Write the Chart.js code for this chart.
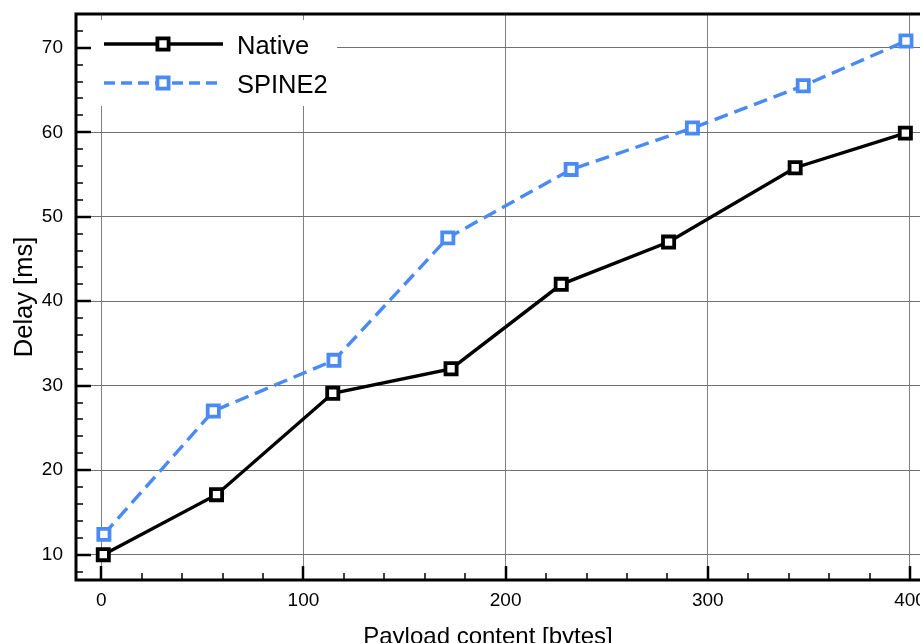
<!DOCTYPE html>
<html>
<head>
<meta charset="utf-8">
<script src="https://cdn.jsdelivr.net/npm/chart.js@4/dist/chart.umd.min.js"></script>
<style>
  html, body { margin: 0; padding: 0; background: #fff; width: 920px; height: 643px; overflow: hidden; }
  #wrap { position: relative; width: 950px; height: 643px; }
</style>
</head>
<body>
<div id="wrap"><canvas id="chart" width="950" height="643"></canvas></div>
<script>
// Payload size (bytes) and measured delay (ms) for each stack
const payloadNative = [1, 57, 114.5, 173, 227.5, 280.6, 343.2, 397.7];
const delayNative   = [10.0, 17.1, 29.1, 32.0, 42.0, 47.0, 55.8, 59.9];
const payloadSpine  = [1.3, 55.4, 115.1, 171.4, 232.4, 292.4, 347.2, 398.0];
const delaySpine    = [12.4, 27.0, 33.0, 47.5, 55.6, 60.5, 65.5, 70.8];

const seriesNames = ['Native', 'SPINE2'];
const xTickValues = [0, 100, 200, 300, 400];
const yTickValues = [10, 20, 30, 40, 50, 60, 70];

const xTitle = 'Payload content [bytes]';
const yTitle = 'Delay [ms]';

const FONT = '"Liberation Sans", Arial, Helvetica, sans-serif';
const BLUE = '#4a8af5';

const toPoints = (xs, ys) => xs.map((x, i) => ({ x, y: ys[i] }));

// Inside tick marks, plot frame, legend panel and axis titles
const framePlugin = {
  id: 'frame',
  afterDatasetsDraw(chart) {
    const { ctx, chartArea: a, scales: { x, y } } = chart;
    ctx.save();

    // legend panel (white, covers grid lines)
    ctx.fillStyle = '#fff';
    ctx.fillRect(a.left, a.top + 6, 261, 86);

    chart.data.datasets.forEach((ds, i) => {
      const ly = a.top + 30 + i * 39;
      const x0 = a.left + 28, x1 = a.left + 147, xm = a.left + 87;
      const half = 5.6;
      ctx.save();
      ctx.strokeStyle = ds.borderColor;
      ctx.lineWidth = ds.borderWidth;
      ctx.setLineDash(ds.borderDash.length ? [11, 6] : []);
      ctx.beginPath();
      ctx.moveTo(x0, ly);
      ctx.lineTo(x1, ly);
      ctx.stroke();
      ctx.setLineDash([]);
      ctx.fillStyle = '#fff';
      ctx.lineWidth = ds.pointBorderWidth;
      ctx.strokeStyle = ds.pointBorderColor;
      ctx.fillRect(xm - half, ly - half, 2 * half, 2 * half);
      ctx.strokeRect(xm - half, ly - half, 2 * half, 2 * half);
      ctx.restore();

      ctx.fillStyle = '#000';
      ctx.font = '25.5px ' + FONT;
      ctx.textAlign = 'left';
      ctx.textBaseline = 'alphabetic';
      ctx.fillText(ds.label, a.left + 161, ly + 9.5);
    });

    // inward tick marks on the left axis
    ctx.strokeStyle = '#000';
    for (let v = Math.ceil(y.min / 2) * 2; v <= y.max; v += 2) {
      const p = Math.round(y.getPixelForValue(v));
      const major = v % 10 === 0;
      ctx.lineWidth = major ? 2.5 : 1.5;
      ctx.beginPath();
      ctx.moveTo(a.left, p);
      ctx.lineTo(a.left + (major ? 15 : 7), p);
      ctx.stroke();
    }
    // inward tick marks on the bottom axis
    for (let v = Math.ceil(x.min / 20) * 20; v <= x.max; v += 20) {
      const p = Math.round(x.getPixelForValue(v));
      const major = v % 100 === 0;
      ctx.lineWidth = major ? 2.5 : 1.5;
      ctx.beginPath();
      ctx.moveTo(p, a.bottom);
      ctx.lineTo(p, a.bottom - (major ? 14 : 7));
      ctx.stroke();
    }

    // plot frame
    ctx.lineWidth = 3;
    ctx.strokeRect(a.left, a.top, a.right - a.left, a.bottom - a.top);
    ctx.restore();
  },
  afterDraw(chart) {
    const { ctx } = chart;
    ctx.save();
    ctx.fillStyle = '#000';
    ctx.font = '24px ' + FONT;
    ctx.textAlign = 'center';
    ctx.textBaseline = 'alphabetic';
    ctx.fillText(xTitle, 488, 644);

    ctx.translate(32, 297);
    ctx.rotate(-Math.PI / 2);
    ctx.font = '25.5px ' + FONT;
    ctx.fillText(yTitle, 0, 0);
    ctx.restore();
  }
};

const lineStyle = (color, dash) => ({
  borderColor: color,
  borderWidth: 3.4,
  borderDash: dash,
  pointStyle: 'rect',
  pointRadius: 7.9,
  pointBorderWidth: 3.8,
  pointBorderColor: color,
  pointBackgroundColor: '#fff',
  tension: 0,
  fill: false
});

new Chart(document.getElementById('chart'), {
  type: 'line',
  data: {
    datasets: [
      Object.assign({ label: seriesNames[0], data: toPoints(payloadNative, delayNative) }, lineStyle('#000', [])),
      Object.assign({ label: seriesNames[1], data: toPoints(payloadSpine, delaySpine) }, lineStyle(BLUE, [14, 7]))
    ]
  },
  options: {
    responsive: false,
    animation: false,
    devicePixelRatio: 1,
    layout: { padding: { top: 14, left: 0, right: 2, bottom: 0 } },
    plugins: { legend: { display: false }, tooltip: { enabled: false } },
    scales: {
      x: {
        type: 'linear',
        position: 'bottom',
        min: -12.5,
        max: 414,
        afterBuildTicks: s => { s.ticks = xTickValues.map(v => ({ value: v })); },
        afterFit: s => { s.height = 63; s.paddingLeft = 0; s.paddingRight = 0; },
        grid: { color: '#808080', lineWidth: 1, drawTicks: false },
        border: { display: false },
        ticks: { font: { family: FONT, size: 19 }, color: '#000', padding: 9, maxRotation: 0 }
      },
      y: {
        type: 'linear',
        position: 'left',
        min: 7,
        max: 74,
        afterBuildTicks: s => { s.ticks = yTickValues.map(v => ({ value: v })); },
        afterFit: s => { s.width = 76; s.paddingTop = 0; s.paddingBottom = 0; },
        grid: { color: '#707070', lineWidth: 1, drawTicks: false },
        border: { display: false },
        ticks: { font: { family: FONT, size: 19 }, color: '#000', padding: 13 }
      }
    }
  },
  plugins: [framePlugin]
});
</script>
</body>
</html>
